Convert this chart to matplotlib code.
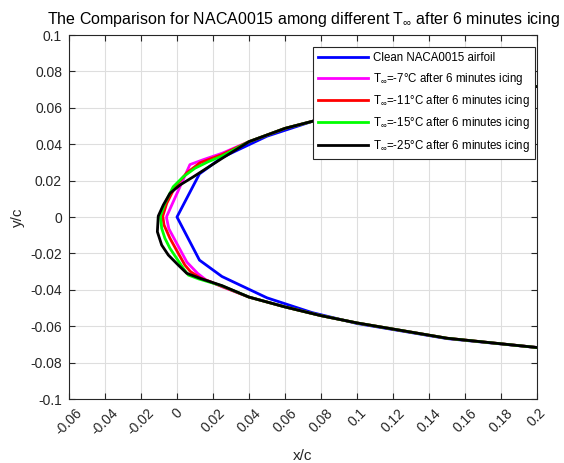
import numpy as np
import matplotlib
matplotlib.use("Agg")
import matplotlib.pyplot as plt

# plot settings
plt.rcParams["font.family"] = ["Liberation Sans", "DejaVu Sans"]
plt.rcParams["mathtext.fontset"] = "custom"
plt.rcParams["mathtext.rm"] = "Liberation Sans"
plt.rcParams["mathtext.it"] = "Liberation Sans:italic"

# clean NACA0015 contour (same stations above and below)
clean_x = [0.0, 0.0125, 0.025, 0.05, 0.075, 0.1, 0.15, 0.2, 0.25]
clean_y = [0.0, 0.0237, 0.0327, 0.0444, 0.0525, 0.0585, 0.0668, 0.0717, 0.0743]

# aft part shared by the iced shapes
tail_up_x = [0.04, 0.06, 0.08, 0.1, 0.15, 0.2, 0.25]
tail_up_y = [0.0414, 0.0487, 0.0538, 0.0585, 0.0668, 0.0717, 0.0743]
tail_lo_x = [0.04, 0.06, 0.08, 0.1, 0.15, 0.2, 0.25]
tail_lo_y = [-0.0440, -0.0494, -0.0542, -0.0582, -0.0666, -0.0717, -0.0743]

# leading edge ice shapes, from upper surface around to lower surface
m7_x = [0.025, 0.0146, 0.0072, -0.0057, -0.0058, -0.0045, 0.0055, 0.0115, 0.016, 0.025]
m7_y = [0.0350, 0.0315, 0.0288, 0.0004, -0.0005, -0.0065, -0.0248, -0.031, -0.0345, -0.0383]

m11_x = [0.025, 0.0128, 0.0054, -0.0011, -0.0057, -0.0079, -0.0072, -0.0039, 0.0007, 0.0044, 0.0075, 0.013, 0.025]
m11_y = [0.0343, 0.0298, 0.0242, 0.0166, 0.0075, 0.0005, -0.0044, -0.0117, -0.0199, -0.0264, -0.0300, -0.0335, -0.0381]

m15_x = [0.025, 0.0174, 0.010, 0.0035, -0.0021, -0.0067, -0.0092, -0.0085, -0.0067, -0.0039, -0.0002, 0.0035, 0.0063, 0.012, 0.025]
m15_y = [0.0335, 0.0304, 0.0268, 0.0221, 0.0166, 0.0075, 0.0005, -0.0062, -0.0117, -0.0172, -0.0227, -0.0282, -0.0319, -0.0340, -0.0378]

m25_x = [0.025, 0.0165, 0.0091, 0.0017, -0.0039, -0.0076, -0.0104, -0.0109, -0.0085, -0.0048, 0.0007, 0.0054, 0.0128, 0.025]
m25_y = [0.0322, 0.0268, 0.0221, 0.0176, 0.0130, 0.0066, 0.0005, -0.0081, -0.0154, -0.0209, -0.0264, -0.0309, -0.0337, -0.0377]

labels = ["Clean NACA0015 airfoil",
          r"T$_{\infty}$=-7$\degree$C after 6 minutes icing",
          r"T$_{\infty}$=-11$\degree$C after 6 minutes icing",
          r"T$_{\infty}$=-15$\degree$C after 6 minutes icing",
          r"T$_{\infty}$=-25$\degree$C after 6 minutes icing"]
colors = ["#0000ff", "#ff00ff", "#ff0000", "#00ff00", "#000000"]


def closeShape(le_x, le_y):
    xs = tail_up_x[::-1] + le_x + tail_lo_x
    ys = tail_up_y[::-1] + le_y + tail_lo_y
    return np.array(xs), np.array(ys)


cx = np.concatenate([clean_x[::-1], clean_x[1:]])
cy = np.concatenate([clean_y[::-1], [-v for v in clean_y[1:]]])
shapes = [(cx, cy)] + [closeShape(a, b) for a, b in
                        [(m7_x, m7_y), (m11_x, m11_y), (m15_x, m15_y), (m25_x, m25_y)]]

fig = plt.figure(figsize=(5.64, 4.63), dpi=100)
ax = fig.add_axes([0.1223, 0.1382, 0.8298, 0.7862])

for (xs, ys), col, lab in zip(shapes, colors, labels):
    ax.plot(xs, ys, color=col, lw=2.0, label=lab)

ax.set_xlim(-0.06, 0.2)
ax.set_ylim(-0.1, 0.1)
xt = np.round(np.arange(-0.06, 0.2001, 0.02), 2)
yt = np.round(np.arange(-0.1, 0.1001, 0.02), 2)
ax.set_xticks(xt)
ax.set_yticks(yt)
ax.set_xticklabels(["%g" % v if v != 0 else "0" for v in xt], rotation=45)
ax.set_yticklabels(["%g" % v if v != 0 else "0" for v in yt])

ax.grid(True, color="#dedede", lw=0.8)
ax.set_axisbelow(True)
for s in ax.spines.values():
    s.set_color("#262626")
    s.set_linewidth(0.8)
ax.tick_params(direction="in", top=True, right=True, length=4, width=0.8,
               colors="#262626", labelsize=10, pad=5)

ax.set_xlabel("x/c", fontsize=11, color="#262626", labelpad=8)
ax.set_ylabel("y/c", fontsize=11, color="#262626", labelpad=4)
ax.set_title(r"The Comparison for NACA0015 among different T$_{\infty}$ after 6 minutes icing",
             fontsize=11.5, color="black", pad=8)

leg = ax.legend(loc="upper right", bbox_to_anchor=(0.996, 0.967), fontsize=8.3,
                frameon=True, fancybox=False, framealpha=1, edgecolor="#262626",
                handlelength=4.3, handletextpad=0.45, labelspacing=0.55,
                borderaxespad=0, borderpad=0.45)
leg.get_frame().set_linewidth(0.8)

plt.savefig("out.png", dpi=100)
